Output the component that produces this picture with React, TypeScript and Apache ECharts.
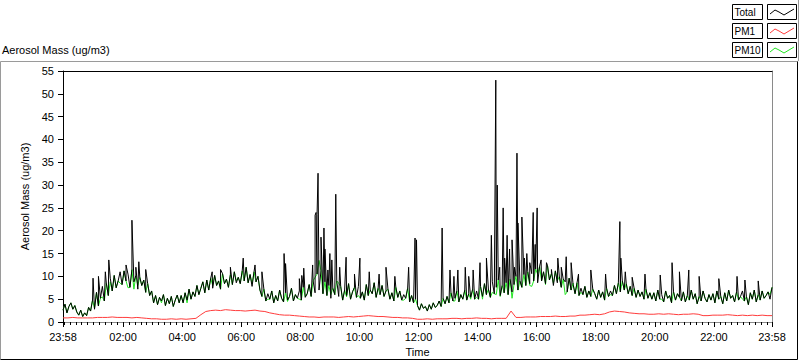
import React, { useEffect, useRef } from "react";
import * as echarts from "echarts";

const FONT = "'Liberation Sans', Arial, sans-serif";

// Total aerosol mass, 4-minute samples starting at 23:58 (one row per hour)
const totalH00to05 = [
  2.6, 3.9, 2.0, 3.4, 4.2, 2.8, 3.6, 2.2, 1.5, 2.6, 1.2, 2.0, 1.4, 3.2, 2.4,
  4.8, 2.8, 6.5, 3.5, 5.2, 7.8, 4.6, 8.5, 5.8, 9.6, 6.8, 10.2, 7.5, 9.0, 11.0,
  8.2, 11.2, 9.0, 10.5, 7.6, 11.5, 8.8, 10.2, 7.2, 9.8, 8.0, 9.2, 6.5, 8.4, 5.8,
  6.8, 4.2, 5.8, 3.8, 5.4, 4.6, 6.0, 3.6, 5.2, 4.0, 5.6, 3.4, 4.8, 5.9, 4.2,
  5.8, 4.2, 6.4, 4.8, 7.2, 5.0, 6.6, 5.6, 8.0, 6.0, 7.4, 8.8, 6.4, 9.2, 7.0,
  9.6, 7.4, 10.2, 8.0, 9.0, 7.2, 10.6, 8.4, 9.4, 7.6, 10.4, 8.2, 11.0, 8.6, 9.8,
];
const totalH06to11 = [
  8.4, 11.2, 9.0, 12.0, 8.6, 10.4, 7.8, 11.0, 8.8, 10.0, 7.0, 5.6, 7.2, 4.6, 6.2,
  5.0, 6.8, 4.2, 5.8, 4.6, 7.0, 5.2, 4.4, 6.4, 4.8, 5.6, 7.4, 4.6, 6.0, 5.2,
  6.8, 4.8, 7.6, 5.4, 6.2, 8.2, 5.6, 9.0, 6.4, 10.5, 7.0, 11.2, 6.2, 8.8, 5.8,
  8.0, 5.2, 7.4, 6.0, 9.0, 5.6, 7.8, 4.8, 7.0, 5.8, 8.4, 5.0, 6.6, 7.6, 5.4,
  7.8, 5.2, 6.6, 4.8, 8.2, 5.8, 7.0, 6.2, 8.6, 5.4, 7.4, 6.0, 8.0, 5.6, 6.8,
  7.2, 5.0, 6.4, 4.6, 7.6, 5.4, 6.8, 4.8, 6.0, 5.2, 7.4, 4.4, 5.8, 4.2, 5.0,
];
const totalH12to17 = [
  3.6, 2.6, 4.0, 3.0, 3.4, 2.4, 3.8, 2.8, 4.2, 3.2, 3.6, 4.6, 3.4, 5.2, 4.0,
  5.6, 4.2, 6.4, 4.6, 5.2, 6.8, 4.4, 6.0, 5.0, 7.0, 4.8, 6.2, 5.4, 7.2, 5.0,
  6.8, 5.0, 7.8, 5.6, 8.4, 6.0, 7.2, 5.4, 8.8, 6.2, 7.6, 9.2, 5.8, 8.0, 6.4,
  8.6, 6.0, 9.4, 6.6, 8.2, 10.0, 7.0, 9.0, 7.6, 10.4, 8.0, 11.0, 8.4, 10.6, 9.0,
  11.6, 8.6, 12.2, 9.0, 11.0, 8.4, 12.4, 9.2, 10.6, 8.0, 11.2, 8.6, 10.0, 7.6, 9.4,
  8.8, 6.6, 9.6, 7.0, 8.2, 6.2, 8.6, 5.8, 7.4, 6.0, 7.8, 5.4, 6.8, 5.6, 7.2,
];
const totalH18to23 = [
  6.2, 5.0, 7.0, 5.4, 6.6, 4.8, 7.4, 5.6, 6.8, 5.8, 8.0, 6.2, 8.6, 6.6, 9.0,
  7.0, 8.4, 6.2, 7.8, 5.8, 7.4, 5.4, 7.0, 5.6, 6.6, 5.0, 7.2, 5.2, 6.4, 5.0,
  6.4, 4.6, 7.0, 5.0, 6.0, 4.4, 6.8, 5.2, 5.8, 4.2, 6.6, 4.8, 6.2, 5.4, 4.6,
  6.6, 4.4, 5.8, 4.8, 7.0, 5.0, 6.2, 4.0, 5.6, 4.6, 6.8, 5.2, 4.4, 6.0, 4.8,
  6.2, 4.2, 6.8, 5.0, 5.6, 4.0, 6.4, 4.6, 7.0, 5.2, 5.8, 4.4, 6.6, 4.8, 5.6,
  6.8, 4.6, 5.6, 3.8, 6.4, 5.0, 7.0, 4.4, 6.0, 4.8, 6.8, 5.2, 5.8, 6.6, 5.0,
  7.6,
];
// Short spikes of the Total series: [minutes after midnight, value]
const totalSpikes = [
  [59, 9.6], [70, 10.0], [84, 11.0], [91, 13.6], [126, 12.5], [138, 22.3],
  [146, 12.0], [152, 13.2], [166, 11.5], [301, 11.0], [318, 11.5], [338, 12.0],
  [364, 14.0], [388, 12.5], [402, 11.0], [447, 15.0], [450, 12.8], [478, 9.5],
  [483, 10.2], [487, 11.8], [505, 12.5], [510, 23.4], [512, 24.0], [514, 23.5],
  [516, 32.6], [522, 18.6], [528, 20.6], [530, 16.0], [536, 11.4], [540, 15.0],
  [544, 13.6], [552, 28.0], [560, 12.0], [573, 14.2], [590, 10.5], [601, 14.0],
  [620, 11.0], [640, 10.5], [654, 12.0], [672, 10.0], [700, 12.0], [713, 18.4],
  [716, 18.0], [768, 20.6], [784, 11.4], [792, 10.0], [800, 11.4], [815, 12.0],
  [822, 10.0], [831, 11.4], [845, 13.0], [858, 14.0], [868, 19.0], [877, 53.0],
  [880, 30.0], [885, 12.0], [892, 25.0], [895, 14.0], [900, 19.0], [905, 16.0],
  [910, 18.0], [915, 12.0], [920, 37.0], [922, 21.7], [930, 23.0], [935, 14.0],
  [940, 15.0], [946, 13.0], [953, 24.0], [957, 17.0], [961, 25.0], [969, 13.6],
  [980, 13.0], [990, 11.5], [1003, 14.0], [1010, 12.0], [1020, 14.3], [1030, 13.0],
  [1045, 10.5], [1070, 11.4], [1100, 10.5], [1129, 22.0], [1131, 14.0], [1140, 11.0],
  [1154, 9.8], [1180, 10.5], [1211, 10.3], [1235, 13.0], [1250, 11.0], [1269, 11.4],
  [1290, 10.0], [1330, 9.5], [1367, 10.0], [1383, 9.2], [1410, 9.0],
];
// PM10 runs on top of the Total base samples, except at these samples,
// where it reads differently: [minutes after midnight, value]
const pm10Differences = [
  [26, 2.2], [62, 3.0], [78, 5.5], [94, 8.8], [114, 8.5], [130, 7.5], [142, 7.2],
  [150, 8.0], [198, 4.2], [250, 4.2], [302, 8.0], [350, 9.0], [382, 8.4], [414, 5.0],
  [454, 4.5], [478, 5.0], [490, 5.5], [510, 9.8], [518, 13.5], [542, 6.0], [558, 8.5],
  [574, 5.5], [598, 5.8], [636, 6.5], [690, 4.8], [794, 4.6], [826, 5.0], [838, 5.4],
  [850, 5.0], [870, 6.5], [878, 6.0], [886, 5.6], [910, 5.2], [946, 8.0], [950, 7.8],
  [962, 10.5], [978, 8.2], [994, 8.5], [1002, 9.0], [1018, 6.0], [1034, 8.5],
  [1050, 6.5], [1110, 6.0], [1146, 6.2], [1214, 5.0], [1378, 5.0], [1434, 6.0],
];
// PM1, 10-minute samples starting at 23:58
const pm1Values = [
  0.9, 0.9, 1.0, 0.9, 0.9, 0.9,
  0.9, 1.0, 1.0, 1.0, 1.1, 1.0,
  1.0, 1.0, 0.9, 1.0, 0.9, 0.8,
  0.7, 0.7, 0.6, 0.6, 0.7, 0.6,
  0.7, 0.6, 0.7, 0.8, 1.6, 2.3,
  2.5, 2.6, 2.5, 2.7, 2.6, 2.5,
  2.5, 2.4, 2.5, 2.6, 2.4, 2.3,
  2.0, 1.8, 1.6, 1.5, 1.5, 1.4,
  1.3, 1.2, 1.1, 1.1, 1.0, 1.1,
  1.1, 1.1, 1.0, 1.1, 1.2, 1.1,
  1.2, 1.3, 1.4, 1.3, 1.2, 1.2,
  1.1, 1.0, 1.0, 0.9, 0.9, 0.8,
  0.6, 0.6, 0.7, 0.6, 0.7, 0.7,
  0.7, 0.8, 0.8, 0.7, 0.8, 0.8,
  0.9, 0.8, 0.8, 0.7, 0.8, 0.8,
  0.8, 2.4, 1.0, 1.0, 1.1, 1.1,
  1.1, 1.2, 1.2, 1.2, 1.3, 1.2,
  1.2, 1.3, 1.3, 1.5, 1.5, 1.6,
  1.7, 1.6, 1.8, 2.2, 2.4, 2.3,
  2.2, 2.0, 1.9, 1.8, 1.8, 1.7,
  1.7, 1.8, 1.7, 1.8, 1.7, 1.6,
  1.7, 1.7, 1.8, 1.7, 1.4, 1.4,
  1.5, 1.5, 1.5, 1.6, 1.5, 1.4,
  1.5, 1.4, 1.5, 1.4, 1.5, 1.4,
  1.4,
];
// Axis: minutes after midnight; the run starts at 23:58 the day before
const startMinute = -2;
const endMinute = 1438;
const majorTickMinutes = [-2, 120, 240, 360, 480, 600, 720, 840, 960, 1080, 1200, 1320, 1438];
const minorTickMinutes: number[] = [];
for (let m = 0; m <= 1436; m += 12) minorTickMinutes.push(m);
const yTicks = { min: 0, max: 55, interval: 5 };

const legendItems = [
  { name: "Total", color: "#000000" },
  { name: "PM1", color: "#ff3c3c" },
  { name: "PM10", color: "#22e622" },
];

function fmtTime(v: number) {
  const m = ((Math.round(v) % 1440) + 1440) % 1440;
  const hh = Math.floor(m / 60);
  const mm = m % 60;
  return String(hh).padStart(2, "0") + ":" + String(mm).padStart(2, "0");
}

function buildOption() {
  const totalBase = [...totalH00to05, ...totalH06to11, ...totalH12to17, ...totalH18to23];
  const baseSamples = totalBase.map((v, i) => [startMinute + 4 * i, v]);
  const totalData = [...baseSamples, ...totalSpikes].sort((a, b) => a[0] - b[0]);
  const diffMap = new Map(pm10Differences.map((d) => [d[0], d[1]]));
  const pm10Data = baseSamples
    .map((p) => [p[0], diffMap.has(p[0]) ? (diffMap.get(p[0]) as number) : p[1]])
    .concat(pm10Differences.filter((d) => !baseSamples.some((p) => p[0] === d[0])))
    .sort((a, b) => a[0] - b[0]);
  const pm1Data = pm1Values.map((v, i) => [startMinute + 10 * i, v]);

  const text = { fontFamily: FONT, fontSize: 11, color: "#000" };

  const legendGraphics: any[] = [];
  const rowTops = [4, 23, 42];
  legendItems.forEach((it, k) => {
    const y = rowTops[k];
    legendGraphics.push({
      type: "rect",
      shape: { x: 732.5, y: y + 0.5, width: 30, height: 15 },
      style: { fill: "#fff", stroke: "#000", lineWidth: 1 },
    });
    legendGraphics.push({
      type: "text",
      x: 734.5,
      y: y + 8.5,
      style: { text: it.name, fill: "#000", font: "10px " + FONT, textVerticalAlign: "middle" },
    });
    legendGraphics.push({
      type: "rect",
      shape: { x: 767.5, y: y + 0.5, width: 29, height: 15 },
      style: { fill: "#fff", stroke: "#000", lineWidth: 1 },
    });
    legendGraphics.push({
      type: "polyline",
      shape: {
        points: [
          [770, y + 10], [775, y + 6], [779, y + 8], [784, y + 11], [789, y + 8], [794, y + 5],
        ],
      },
      style: { stroke: it.color, lineWidth: 1, fill: "none" },
    });
  });

  const lineBase = { type: "line", showSymbol: false, symbol: "none", xAxisIndex: 0, yAxisIndex: 0, silent: true };

  return {
    animation: false,
    backgroundColor: "#fff",
    title: {
      text: "Aerosol Mass (ug/m3)",
      left: 2,
      top: 44,
      padding: 0,
      textStyle: { ...text, fontWeight: "normal" },
    },
    grid: { left: 63, right: 28, top: 71, bottom: 39, containLabel: false, outerBoundsMode: "none" },
    xAxis: [
      {
        type: "value",
        min: startMinute,
        max: endMinute,
        position: "bottom",
        axisLine: { show: true, onZero: false, lineStyle: { color: "#8a8a8a", width: 1 } },
        axisTick: { show: true, customValues: majorTickMinutes, length: 5, lineStyle: { color: "#000" } },
        axisLabel: { customValues: majorTickMinutes, formatter: (v: number) => fmtTime(v), margin: 9, ...text },
        splitLine: { show: false },
        name: "Time",
        nameLocation: "middle",
        nameGap: 24,
        nameTextStyle: text,
      },
      {
        type: "value",
        min: startMinute,
        max: endMinute,
        position: "bottom",
        offset: 0,
        axisLine: { show: true, onZero: false, lineStyle: { color: "#8a8a8a", width: 1 } },
        axisTick: { show: true, customValues: minorTickMinutes, length: 3, lineStyle: { color: "#000" } },
        axisLabel: { show: false },
        splitLine: { show: false },
      },
      {
        type: "value",
        min: startMinute,
        max: endMinute,
        position: "top",
        axisLine: { show: true, onZero: false, lineStyle: { color: "#000" } },
        axisTick: { show: false },
        axisLabel: { show: false },
        splitLine: { show: false },
      },
    ],
    yAxis: [
      {
        type: "value",
        ...yTicks,
        position: "left",
        axisLine: { show: true, onZero: false, lineStyle: { color: "#000" } },
        axisTick: { show: true, length: 5, lineStyle: { color: "#000" } },
        axisLabel: { margin: 9, ...text },
        splitLine: { show: false },
        name: "Aerosol Mass (ug/m3)",
        nameLocation: "middle",
        nameGap: 25,
        nameTextStyle: text,
      },
      {
        type: "value",
        ...yTicks,
        position: "right",
        axisLine: { show: true, onZero: false, lineStyle: { color: "#8a8a8a" } },
        axisTick: { show: false },
        axisLabel: { show: false },
        splitLine: { show: false },
      },
    ],
    series: [
      { ...lineBase, name: "PM1", data: pm1Data, lineStyle: { color: "#ff3c3c", width: 1 } },
      { ...lineBase, name: "PM10", data: pm10Data, lineStyle: { color: "#22e622", width: 1 } },
      { ...lineBase, name: "Total", data: totalData, lineStyle: { color: "#000", width: 1 } },
    ],
    graphic: [
      {
        type: "polyline",
        shape: { points: [[0.5, 359.5], [0.5, 61.5], [797.5, 61.5]] },
        style: { stroke: "#9a9a9a", lineWidth: 1, fill: "none" },
      },
      {
        type: "polyline",
        shape: { points: [[797.5, 61.5], [797.5, 359.5], [0.5, 359.5]] },
        style: { stroke: "#000", lineWidth: 1, fill: "none" },
      },
      {
        type: "line",
        shape: { x1: 798.5, y1: 0, x2: 798.5, y2: 61 },
        style: { stroke: "#9a9a9a", lineWidth: 1 },
      },
      ...legendGraphics,
    ],
  };
}

export default function App() {
  const ref = useRef<HTMLDivElement>(null);
  useEffect(() => {
    if (!ref.current) return;
    const chart = echarts.init(ref.current, null, { renderer: "svg" });
    chart.setOption(buildOption() as any);
    return () => chart.dispose();
  }, []);
  return (
    <div
      ref={ref}
      style={{ position: "fixed", left: 0, top: 0, width: 800, height: 361, background: "#fff" }}
    />
  );
}
